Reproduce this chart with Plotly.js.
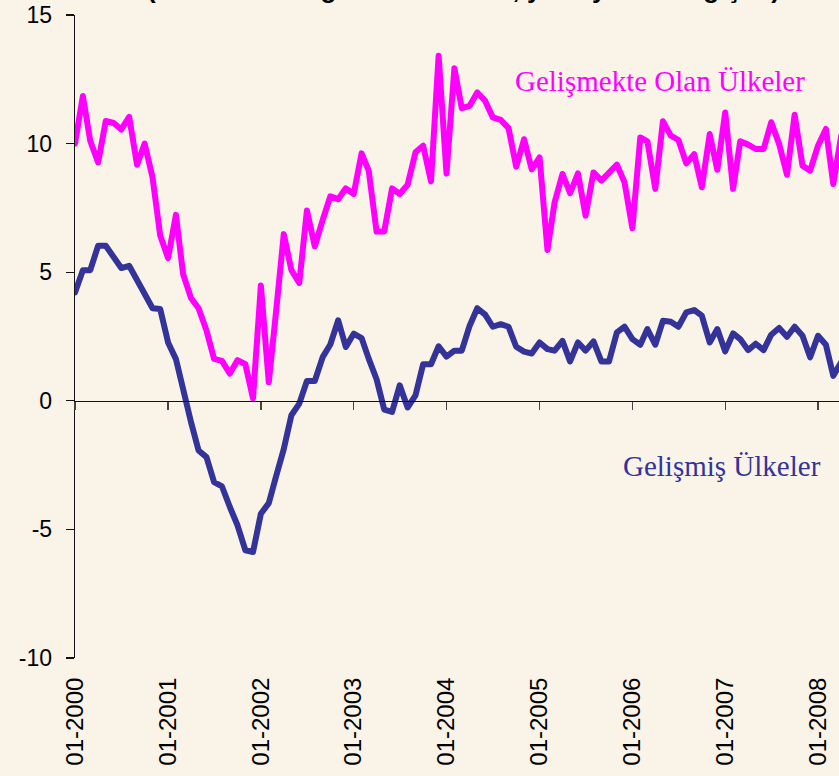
<!DOCTYPE html>
<html>
<head>
<meta charset="utf-8">
<script src="https://cdn.plot.ly/plotly-3.0.1.min.js"></script>
<style>
  html, body { margin: 0; padding: 0; background: #FAF4E8; overflow: hidden; }
  #chart { width: 839px; height: 776px; }
  .js-line { stroke-linejoin: round !important; stroke-linecap: round !important; }
</style>
</head>
<body>
<div id="chart"></div>
<script>
// Monthly series, 01-2000 .. 04-2008 (yıllık yüzde değişim)
const startYear = 2000;
const gelismekte = [
  10.0, 11.85, 10.1, 9.27, 10.88, 10.8, 10.55, 11.04, 9.18, 10.0, 8.68, 6.43,
  5.55, 7.23, 4.93, 4.0, 3.6, 2.73, 1.63, 1.55, 1.06, 1.58, 1.42, 0.1,
  4.48, 0.72, 3.4, 6.48, 5.08, 4.58, 7.4, 6.0, 7.03, 7.95, 7.84, 8.26,
  8.04, 9.62, 8.95, 6.58, 6.58, 8.26, 8.04, 8.4, 9.66, 9.92, 8.53, 13.42,
  8.84, 12.93, 11.38, 11.47, 11.99, 11.66, 11.02, 10.92, 10.6, 9.1, 10.17, 9.0,
  9.46, 5.86, 7.71, 8.82, 8.07, 8.84, 7.2, 8.88, 8.56, 8.88, 9.18, 8.5,
  6.71, 10.24, 10.09, 8.24, 10.87, 10.31, 10.14, 9.23, 9.59, 8.3, 10.37, 8.98,
  11.21, 8.24, 10.09, 9.96, 9.79, 9.79, 10.83, 9.98, 8.79, 11.12, 9.14, 8.95,
  9.92, 10.57, 8.43, 10.3
];
const gelismis = [
  4.21, 5.08, 5.08, 6.03, 6.03, 5.6, 5.16, 5.25, 4.73, 4.15, 3.6, 3.57,
  2.27, 1.62, 0.39, -0.82, -1.93, -2.19, -3.16, -3.33, -4.13, -4.84, -5.81, -5.88,
  -4.39, -3.98, -2.96, -1.88, -0.56, -0.11, 0.77, 0.77, 1.7, 2.19, 3.13, 2.09,
  2.61, 2.44, 1.64, 0.84, -0.34, -0.43, 0.6, -0.26, 0.21, 1.42, 1.42, 2.12,
  1.72, 1.95, 1.95, 2.92, 3.6, 3.35, 2.88, 2.98, 2.88, 2.1, 1.91, 1.84,
  2.27, 2.01, 1.95, 2.33, 1.53, 2.27, 1.95, 2.31, 1.53, 1.53, 2.66, 2.88,
  2.4, 2.18, 2.79, 2.18, 3.11, 3.07, 2.88, 3.44, 3.53, 3.31, 2.27, 2.79,
  1.92, 2.62, 2.4, 1.97, 2.22, 1.97, 2.57, 2.83, 2.49, 2.88, 2.53, 1.69,
  2.53, 2.18, 0.97, 1.5
];
const seriesNames = ["Gelişmekte Olan Ülkeler", "Gelişmiş Ülkeler"];
const titleText = "(Reel GSYİH ağırlıklı ortalama, yıllık yüzde değişim)";
const yTicks = [-10, -5, 0, 5, 10, 15];

const months = gelismekte.map((_, i) => {
  const y = startYear + Math.floor(i / 12);
  const m = (i % 12) + 1;
  return y + "-" + String(m).padStart(2, "0") + "-01";
});

const BG = "#FAF4E8";
const PINK = "#FF00FF";
const BLUE = "#333399";
const xRange = ["2000-01-01", "2008-03-23 12:00"];

const traces = [
  { x: months, y: gelismekte, type: "scatter", mode: "lines", name: seriesNames[0],
    line: { color: PINK, width: 6 }, hoverinfo: "skip" },
  { x: months, y: gelismis, type: "scatter", mode: "lines", name: seriesNames[1],
    line: { color: BLUE, width: 6 }, hoverinfo: "skip", xaxis: "x2" }
];

const layout = {
  width: 839, height: 776,
  margin: { l: 75, r: 0, t: 15, b: 118, pad: 0 },
  paper_bgcolor: BG, plot_bgcolor: BG,
  showlegend: false,
  font: { family: "Liberation Sans, Arial, sans-serif", color: "#000" },
  xaxis: {
    type: "date", range: xRange, tick0: "2000-01-01", dtick: "M12",
    tickformat: "%m-%Y", tickangle: -90,
    ticks: "outside", ticklen: 9, tickcolor: "rgba(0,0,0,0)",
    showline: false, showgrid: false, zeroline: false,
    tickfont: { family: "Liberation Sans, Arial, sans-serif", size: 24, color: "#000" }
  },
  xaxis2: {
    type: "date", range: xRange, tick0: "2000-01-01", dtick: "M12",
    overlaying: "x", anchor: "free", position: 0.4, side: "bottom",
    showticklabels: false, ticks: "outside", ticklen: 8, tickwidth: 1.3, tickcolor: "#444",
    showline: true, linecolor: "#111", linewidth: 1.3,
    showgrid: false, zeroline: false
  },
  yaxis: {
    range: [-10, 15], tickvals: yTicks, ticktext: yTicks.map(String),
    ticks: "outside", ticklen: 8, tickwidth: 1.3, tickcolor: "#111",
    showline: true, linecolor: "#111", linewidth: 1.3,
    showgrid: false, zeroline: false,
    ticklabelstandoff: 9,
    tickfont: { family: "Liberation Sans, Arial, sans-serif", size: 23, color: "#000" }
  },
  annotations: [
    { text: seriesNames[0], xref: "paper", yref: "paper", x: 0.7656, y: 0.897,
      xanchor: "center", yanchor: "middle", showarrow: false,
      font: { family: "Liberation Serif, Times New Roman, serif", size: 29, color: PINK } },
    { text: seriesNames[1], xref: "paper", yref: "paper", x: 0.8474, y: 0.299,
      xanchor: "center", yanchor: "middle", showarrow: false,
      font: { family: "Liberation Serif, Times New Roman, serif", size: 29, color: BLUE } },
    { text: "<b>" + titleText + "</b>", xref: "paper", yref: "paper", x: 0.509, y: 1.0145,
      xanchor: "center", yanchor: "bottom", showarrow: false,
      font: { family: "Liberation Sans, Arial, sans-serif", size: 26, color: "#000" } }
  ]
};

Plotly.newPlot("chart", traces, layout, { staticPlot: true, displayModeBar: false });
</script>
</body>
</html>
